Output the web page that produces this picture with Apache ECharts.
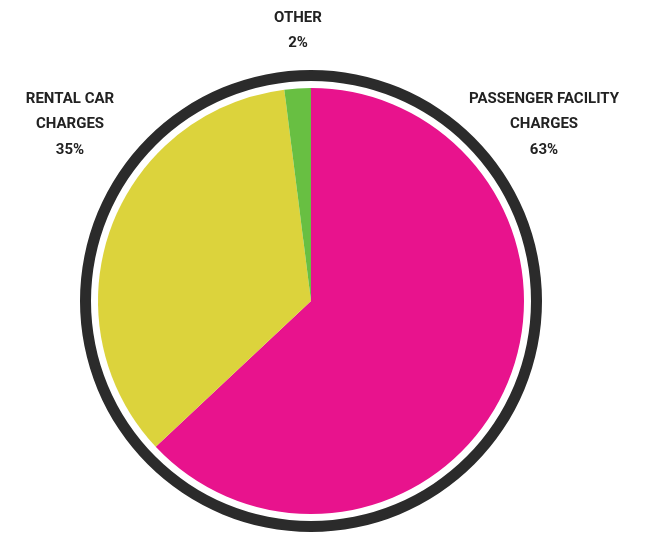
<!DOCTYPE html>
<html>
<head>
<meta charset="utf-8">
<script src="https://cdn.jsdelivr.net/npm/echarts@6/dist/echarts.min.js"></script>
<style>
html,body{margin:0;padding:0;background:#fff;}
#chart{width:650px;height:537px;}
</style>
</head>
<body>
<div id="chart"></div>
<script>
const categories = ['PASSENGER FACILITY\nCHARGES', 'RENTAL CAR\nCHARGES', 'OTHER'];
const values = [63, 35, 2];
const colors = ['#E8138D', '#DCD33C', '#68BF42'];

const labelSpots = [
  {x: 544, y: 86},
  {x: 70, y: 86},
  {x: 298, y: 5}
];

const chart = echarts.init(document.getElementById('chart'));
chart.setOption({
  animation: false,
  backgroundColor: '#ffffff',
  series: [
    {
      type: 'pie',
      silent: true,
      center: [311, 301],
      radius: [220, 231],
      label: {show: false},
      labelLine: {show: false},
      itemStyle: {color: '#2b2b2b'},
      data: [{value: 1, name: 'ring'}]
    },
    {
      type: 'pie',
      center: [311, 301],
      radius: [0, 213],
      startAngle: 90,
      clockwise: true,
      data: categories.map((c, i) => ({name: c, value: values[i], itemStyle: {color: colors[i]}})),
      label: {
        show: true,
        position: 'outside',
        overflow: 'none',
        width: 200,
        formatter: p => p.name + '\n' + p.value + '%',
        fontFamily: 'Roboto, "Liberation Sans Narrow", sans-serif',
        fontWeight: 'bold',
        fontSize: 15,
        lineHeight: 25.5,
        color: '#222',
        align: 'center'
      },
      labelLine: {show: false},
      labelLayout: p => ({
        x: labelSpots[p.dataIndex].x,
        y: labelSpots[p.dataIndex].y,
        align: 'center',
        verticalAlign: 'top'
      })
    }
  ]
});
</script>
</body>
</html>
